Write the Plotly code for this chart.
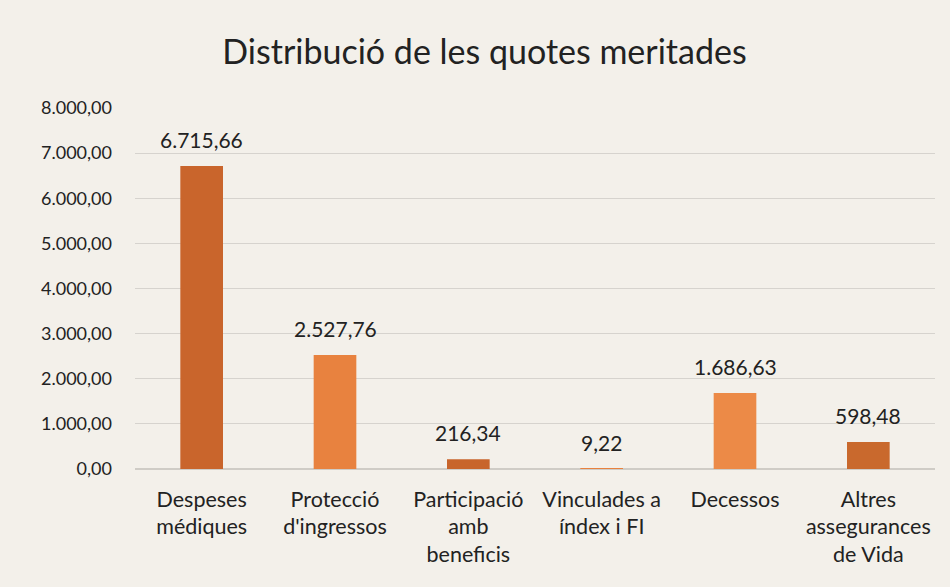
import plotly.graph_objects as go

categories = ["Despeses<br>médiques", "Protecció<br>d'ingressos", "Participació<br>amb<br>beneficis",
              "Vinculades a<br>índex i FI", "Decessos", "Altres<br>assegurances<br>de Vida"]
values = [6715.66, 2527.76, 216.34, 9.22, 1686.63, 598.48]
bar_colors = ["#C9652C", "#E8823F", "#C8652B", "#E8823F", "#EC8A47", "#C9692D"]
y_ticks = [0, 1000, 2000, 3000, 4000, 5000, 6000, 7000, 8000]

FONT = "Lato, 'Open Sans', sans-serif"
TXT = "#222222"

fig = go.Figure(go.Bar(
    x=categories, y=values,
    marker=dict(color=bar_colors, line=dict(width=0)),
    hovertemplate="%{y:,.2f}<extra></extra>",
))

for c, v in zip(categories, values):
    fig.add_annotation(x=c, y=v, text=f"{v:,.2f}".replace(",", "X").replace(".", ",").replace("X", "."),
                       showarrow=False, yanchor="bottom", yshift=12,
                       font=dict(size=21, color=TXT, family=FONT))

fig.update_layout(
    width=950, height=587,
    separators=",.",
    paper_bgcolor="#F3F0EA", plot_bgcolor="#F3F0EA",
    margin=dict(l=135, r=15, t=108, b=118),
    bargap=0.68,
    showlegend=False,
    title=dict(text="Distribució de les quotes meritades", x=0.51, xanchor="center",
               y=0.911, yanchor="middle",
               font=dict(size=34, color=TXT, family=FONT)),
    font=dict(family=FONT, color=TXT),
)
fig.update_yaxes(range=[0, 8000], tickvals=y_ticks, tickformat=",.2f",
                 gridcolor="#D6D3CE", gridwidth=1, zeroline=True, zerolinecolor="#CFCCC6",
                 tickfont=dict(size=18, color=TXT), ticks="", ticklabelstandoff=22,
                 showline=False)
fig.update_xaxes(tickfont=dict(size=21.5, color=TXT), showline=False, ticks="",
                 ticklabelstandoff=15)

fig.write_html("out.html", config={"displayModeBar": False},
               post_script="document.body.style.margin='0';document.body.style.background='#F3F0EA';")
